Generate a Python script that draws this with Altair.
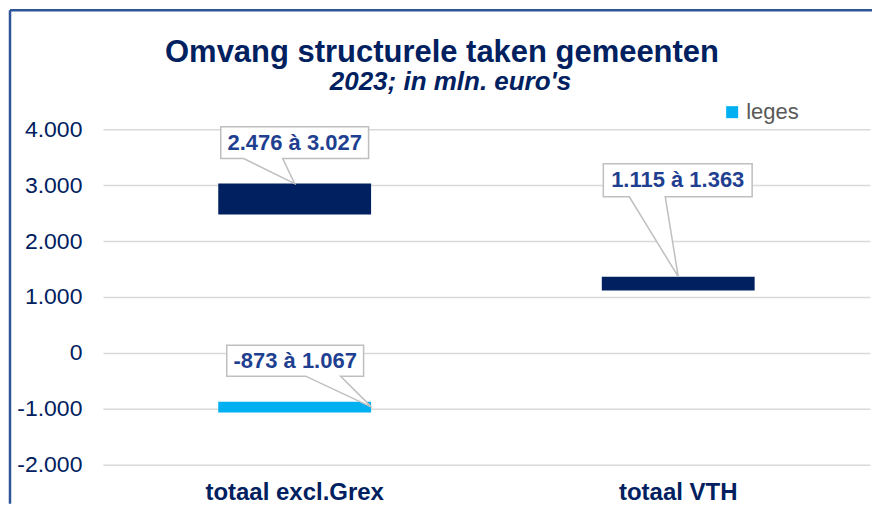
import altair as alt
import pandas as pd

# ---- data ----
categories = ["totaal excl.Grex", "totaal VTH"]
range_low = [2476, 1115]
range_high = [3027, 1363]
range_labels = ["2.476 à 3.027", "1.115 à 1.363"]

leges_category = ["totaal excl.Grex"]
leges_low = [-1067]
leges_high = [-873]
leges_labels = ["-873 à 1.067"]
leges_series = ["leges"]

y_ticks = [-2000, -1000, 0, 1000, 2000, 3000, 4000]

title_text = "Omvang structurele taken gemeenten"
subtitle_text = "2023; in mln. euro's"

# ---- styles ----
FONT = "Liberation Sans"
NAVY = "#002060"
LABEL_BLUE = "#1F3F91"
LIGHT = "#00B0F0"
BORDER = "#2E5597"

main_df = pd.DataFrame({"cat": categories, "lo": range_low, "hi": range_high, "label": range_labels})
leges_df = pd.DataFrame({"cat": leges_category, "lo": leges_low, "hi": leges_high,
                         "label": leges_labels, "series": leges_series})
leges_df["mid"] = (leges_df["lo"] + leges_df["hi"]) / 2

x_enc = alt.X("cat:N", scale=alt.Scale(domain=categories, paddingInner=0, paddingOuter=0),
              axis=alt.Axis(title=None, labelAngle=0, labelFontSize=24, labelFontWeight="bold",
                            labelColor=NAVY, labelFont=FONT, ticks=False, domain=False,
                            grid=False, labelPadding=16))
y_scale = alt.Scale(domain=[-2000, 4000], nice=False, zero=False)
y_axis = alt.Axis(title=None, values=y_ticks, labelFontSize=23, labelColor=NAVY, labelFont=FONT,
                  ticks=False, domain=False, grid=True, gridColor="#D9D9D9", gridWidth=1.5,
                  labelPadding=21,
                  labelExpr="(datum.value < 0 ? '-' : '') + replace(format(abs(datum.value), ','), ',', '.')")

base_main = alt.Chart(main_df)
base_leges = alt.Chart(leges_df)

bars = base_main.mark_bar(size=153, color=NAVY).encode(
    x=x_enc,
    y=alt.Y("lo:Q", scale=y_scale, axis=y_axis),
    y2="hi:Q",
)

leges_bar = base_leges.mark_bar(size=153).encode(
    x=alt.X("cat:N"),
    y=alt.Y("lo:Q"),
    y2="hi:Q",
    color=alt.Color("series:N", scale=alt.Scale(domain=leges_series, range=[LIGHT]),
                    legend=alt.Legend(title=None, orient="none", legendX=619, legendY=-28,
                                      symbolType="square", symbolSize=144, symbolStrokeWidth=0,
                                      labelFontSize=22, labelColor="#595959", labelFont=FONT,
                                      labelOffset=3, padding=0)),
)

# callout shapes (pixel units: size=4 -> path unit = 1px), tip at anchor point
shape_c1 = "M-74,-57H74V-25H-12L0,0L-51,-25H-74Z"
shape_c2 = "M-75,-113H74V-80H-13L0,0L-49,-80H-75Z"
shape_c3 = "M-68,-62H69V-31H46L77,0L11,-31H-68Z"

callout_style = dict(filled=True, fill="white", stroke="#BFBFBF", strokeWidth=1.5, size=4, opacity=1)
text_style = dict(font=FONT, fontSize=22, fontWeight="bold", color=LABEL_BLUE,
                  align="center", baseline="middle")

layers = []
main_shapes = [shape_c1, shape_c2]
main_text_offsets = [(0, -41), (-0.5, -96.5)]
for i, cat in enumerate(categories):
    sub = base_main.transform_filter(alt.datum.cat == cat)
    layers.append(sub.mark_point(shape=main_shapes[i], **callout_style).encode(
        x="cat:N", y="hi:Q"))
    dx, dy = main_text_offsets[i]
    layers.append(sub.mark_text(dx=dx, dy=dy, **text_style).encode(
        x="cat:N", y="hi:Q", text="label:N"))

layers.append(base_leges.mark_point(shape=shape_c3, **callout_style).encode(x="cat:N", y="mid:Q"))
layers.append(base_leges.mark_text(dx=0.5, dy=-46.5, **text_style).encode(
    x="cat:N", y="mid:Q", text="label:N"))

# frame border (decoration)
frame_df = pd.DataFrame({"k": [1]})
border_left = alt.Chart(frame_df).mark_rule(color=BORDER, strokeWidth=2.5).encode(
    x=alt.value(-93), y=alt.value(-119), y2=alt.value(375))
border_top = alt.Chart(frame_df).mark_rule(color=BORDER, strokeWidth=2.5).encode(
    x=alt.value(-93), x2=alt.value(770), y=alt.value(-119))

title_layer = alt.Chart(pd.DataFrame({"t": [title_text]})).mark_text(
    font=FONT, fontSize=31, fontWeight="bold", color=NAVY, align="center", baseline="alphabetic"
).encode(x=alt.value(339.5), y=alt.value(-67), text="t:N")
subtitle_layer = alt.Chart(pd.DataFrame({"t": [subtitle_text]})).mark_text(
    font=FONT, fontSize=26, fontWeight="bold", fontStyle="italic", color=NAVY,
    align="center", baseline="alphabetic"
).encode(x=alt.value(348), y=alt.value(-39), text="t:N")

chart = alt.layer(border_left, border_top, bars, leges_bar, *layers, title_layer, subtitle_layer).properties(
    width=768, height=336,
    padding={"left": 0, "top": 0, "right": 0, "bottom": 0},
    background="white",
).configure_view(stroke=None)

chart.save("out.html", embed_options={"renderer": "svg", "actions": False})
